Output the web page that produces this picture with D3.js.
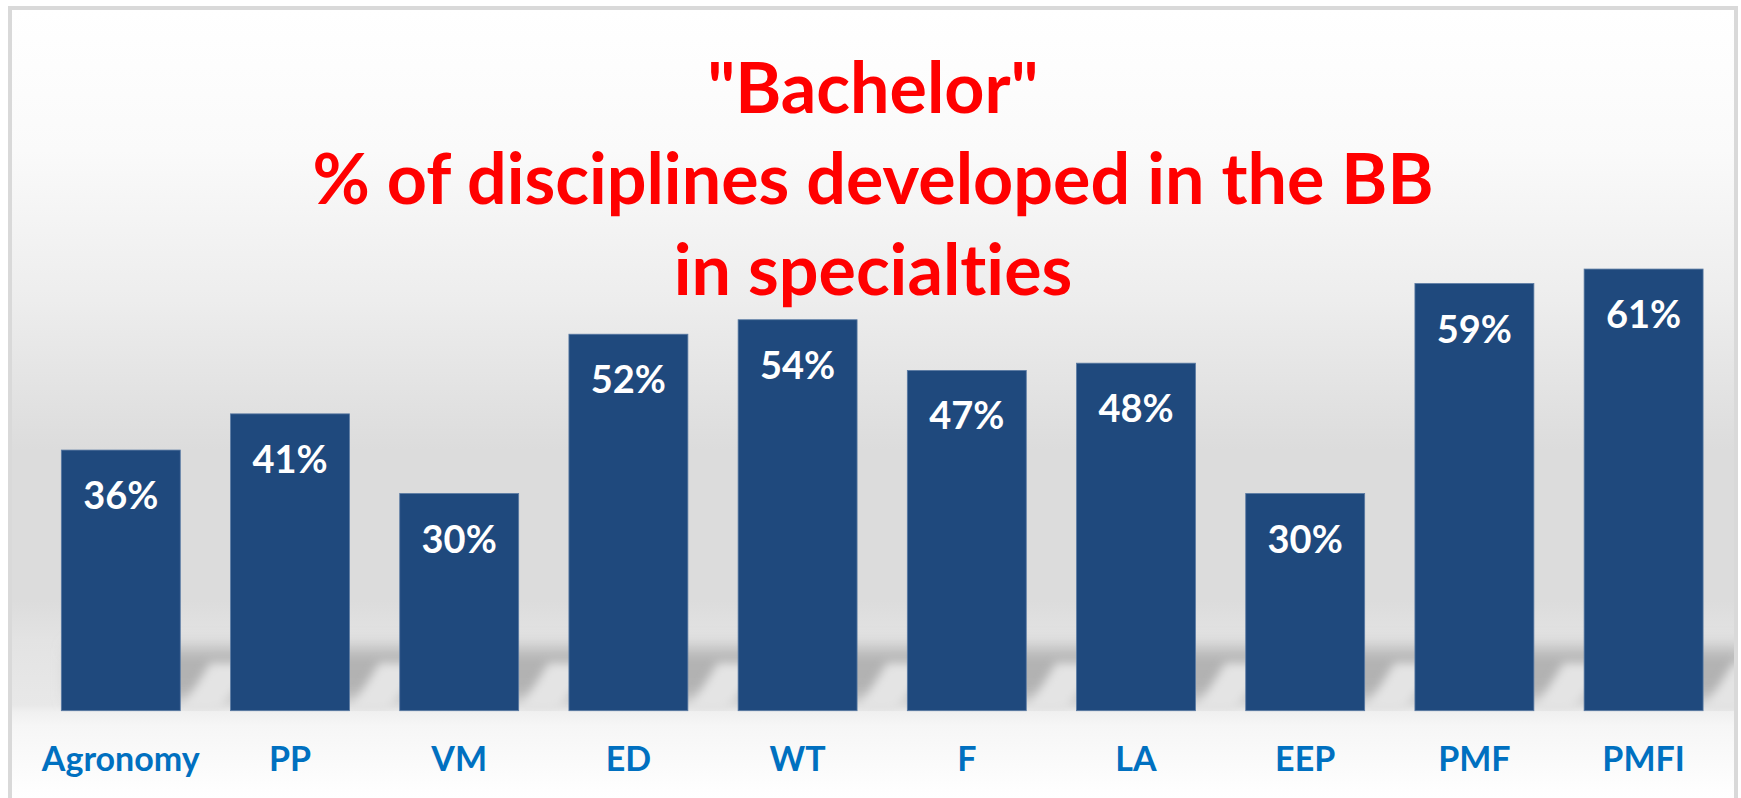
<!DOCTYPE html>
<html>
<head>
<meta charset="utf-8">
<title>Bachelor - % of disciplines developed in the BB</title>
<script src="https://cdn.jsdelivr.net/npm/d3@7"></script>
<style>
    html, body { margin: 0; padding: 0; background: #ffffff; }
    #chart { width: 1741px; height: 798px; }
    svg text { font-variant-ligatures: none; font-feature-settings: "liga" 0, "clig" 0; }
</style>
</head>
<body>
<div id="chart"></div>
<script>
// Chart data
const specialties = ['Agronomy', 'PP', 'VM', 'ED', 'WT', 'F', 'LA', 'EEP', 'PMF', 'PMFI'];
const shares = [0.36, 0.41, 0.30, 0.52, 0.54, 0.47, 0.48, 0.30, 0.59, 0.61];
const titleLines = ['"Bachelor"', '% of disciplines developed in the BB', 'in specialties'];

const width = 1741;
const height = 798;

const svg = d3.select('#chart')
    .append('svg')
    .attr('width', width)
    .attr('height', height)
    .style('font-family', 'Lato, "Open Sans", sans-serif');

const defs = svg.append('defs');

// Silver style background of the chart area
const bg = defs.append('linearGradient')
    .attr('id', 'bg')
    .attr('gradientUnits', 'userSpaceOnUse')
    .attr('x1', 0).attr('y1', 10)
    .attr('x2', 0).attr('y2', 798);
[
    [10, '#ffffff'], [150, '#fafafa'], [300, '#ededed'], [450, '#dcdcdc'],
    [600, '#dcdcdc'], [640, '#e3e3e3'], [705, '#e8e8e8'],
    [712, '#f0f0f0'], [725, '#f6f6f6'], [798, '#ffffff']
].forEach(([y, c]) => {
    bg.append('stop').attr('offset', (y - 10) / 788).attr('stop-color', c);
});

defs.append('filter')
    .attr('id', 'soft')
    .attr('x', '-50%').attr('y', '-50%').attr('width', '200%').attr('height', '200%')
    .append('feGaussianBlur')
    .attr('stdDeviation', 5);

defs.append('filter')
    .attr('id', 'blurBand')
    .attr('x', '-10%').attr('y', '-100%').attr('width', '120%').attr('height', '300%')
    .append('feGaussianBlur')
    .attr('stdDeviation', 9);

// keep the shadow above the floor line
defs.append('clipPath')
    .attr('id', 'wall')
    .append('rect')
    .attr('x', 12).attr('y', 10)
    .attr('width', 1722).attr('height', 701);

// Frame
svg.append('rect')
    .attr('x', 10)
    .attr('y', 8)
    .attr('width', 1726)
    .attr('height', 820)
    .attr('fill', 'url(#bg)')
    .attr('stroke', '#d9d9d9')
    .attr('stroke-width', 4);

// Scales
const x = d3.scaleBand()
    .domain(specialties)
    .range([36.2, 1728.2])
    .paddingInner(0.297)
    .paddingOuter(0.1485);

const y = d3.scaleLinear()
    .domain([0, 0.7])
    .range([710.7, 203.9]);

// Shadow band behind the bars
const shadow = svg.append('g').attr('clip-path', 'url(#wall)');

shadow.append('rect')
    .attr('x', x(specialties[0]) + 10)
    .attr('y', 648)
    .attr('width', 1740 - x(specialties[0]))
    .attr('height', 52)
    .attr('fill', '#b2b2b2')
    .attr('filter', 'url(#blurBand)');

// Light wedges of the perspective shadow beside each bar foot
shadow.selectAll('path')
    .data(specialties)
    .enter()
    .append('path')
    .attr('d', d => {
        const r = x(d) + x.bandwidth();
        const b = y(0);
        return `M${r},${b}L${r + 38},${b}L${r + 80},${b - 48}L${r + 30},${b - 48}Z`;
    })
    .attr('fill', '#e4e4e4')
    .attr('filter', 'url(#soft)');

// Bars
svg.append('g')
    .selectAll('rect')
    .data(specialties)
    .enter()
    .append('rect')
    .attr('x', d => x(d))
    .attr('y', (d, i) => y(shares[i]))
    .attr('width', x.bandwidth())
    .attr('height', (d, i) => y(0) - y(shares[i]))
    .attr('fill', '#1f497d')
    .attr('stroke', '#5a7aa3')
    .attr('stroke-width', 0.8);

// Value labels inside bars
svg.append('g')
    .selectAll('text')
    .data(specialties)
    .enter()
    .append('text')
    .attr('x', d => x(d) + x.bandwidth() / 2)
    .attr('y', (d, i) => y(shares[i]) + 59)
    .attr('text-anchor', 'middle')
    .style('font-size', '38px')
    .style('font-weight', 700)
    .style('fill', '#ffffff')
    .text((d, i) => d3.format('.0%')(shares[i]));

// Category axis labels
const xAxis = d3.axisBottom(x).tickSize(0).tickPadding(0);
const axisG = svg.append('g')
    .attr('transform', `translate(0,${y(0)})`)
    .call(xAxis);
axisG.select('.domain').remove();
axisG.selectAll('text')
    .attr('dy', null)
    .attr('y', 60)
    .style('font-family', 'Lato, "Open Sans", sans-serif')
    .style('font-size', '34px')
    .style('font-weight', 700)
    .style('fill', '#0070c0');

// Title
svg.append('text')
    .attr('x', 873)
    .attr('text-anchor', 'middle')
    .style('font-size', '70px')
    .style('font-weight', 700)
    .style('fill', '#ff0000')
    .selectAll('tspan')
    .data(titleLines)
    .enter()
    .append('tspan')
    .attr('x', 873)
    .attr('y', (d, i) => 113 + i * 91)
    .text(d => d);
</script>
</body>
</html>
